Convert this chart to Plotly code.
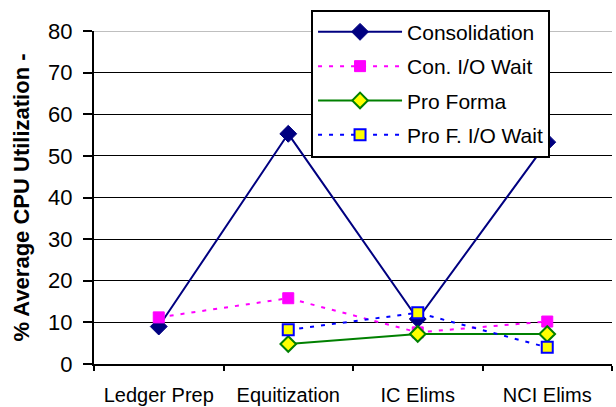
import plotly.graph_objects as go

# Workload phases and utilization figures
categories = ["Ledger Prep", "Equitization", "IC Elims", "NCI Elims"]
consolidation = [9.0, 55.3, 10.8, 53.3]
con_io_wait = [11.2, 15.8, 7.6, 10.2]
pro_forma = [None, 4.8, 7.2, 7.2]
pro_f_io_wait = [None, 8.2, 12.3, 4.0]
y_ticks = [0, 10, 20, 30, 40, 50, 60, 70, 80]

FONT = "Liberation Sans, Arial, sans-serif"

fig = go.Figure()

fig.add_trace(go.Scatter(
    x=categories, y=consolidation, name="Consolidation", mode="lines+markers",
    line=dict(color="#000080", width=2),
    marker=dict(symbol="diamond", size=13, color="#000080",
                line=dict(color="#000080", width=1)),
    legendgroup="a",
))
fig.add_trace(go.Scatter(
    x=categories, y=con_io_wait, name="Con. I/O Wait", mode="lines+markers",
    line=dict(color="#FF00FF", width=2, dash="4px,7px"),
    marker=dict(symbol="square", size=11, color="#FF00FF",
                line=dict(color="#FF00FF", width=1)),
    legendgroup="b",
))
fig.add_trace(go.Scatter(
    x=categories, y=pro_forma, name="Pro Forma", mode="lines+markers",
    line=dict(color="#008000", width=2),
    marker=dict(symbol="diamond", size=12, color="#FFFF00",
                line=dict(color="#008000", width=2)),
    legendgroup="c",
))
fig.add_trace(go.Scatter(
    x=categories, y=pro_f_io_wait, name="Pro F. I/O Wait", mode="lines+markers",
    line=dict(color="#0000FF", width=2, dash="4px,7px"),
    marker=dict(symbol="square", size=11, color="#FFFF00",
                line=dict(color="#0000FF", width=2)),
    legendgroup="d",
))

# top border line of the plot area in grey
fig.add_shape(type="line", xref="paper", yref="y", x0=0, x1=1, y0=80, y1=80,
              line=dict(color="#808080", width=1), layer="below")

fig.update_layout(
    width=616, height=407,
    margin=dict(l=94, r=4, t=31, b=43),
    paper_bgcolor="white", plot_bgcolor="white",
    font=dict(family=FONT, color="black"),
    showlegend=True,
    legend=dict(
        x=0.419, y=1.064, xanchor="left", yanchor="top",
        bgcolor="white", bordercolor="black", borderwidth=2,
        font=dict(family=FONT, size=21, color="black"),
        itemwidth=84, tracegroupgap=4,
    ),
    xaxis=dict(
        type="category", range=[-0.5, 3.5], automargin=False,
        showline=True, linecolor="black", linewidth=2,
        ticks="outside", tickson="boundaries", ticklen=5, tickwidth=2, tickcolor="black",
        showgrid=False, ticklabelstandoff=12,
        tickfont=dict(family=FONT, size=20, color="black"),
    ),
    yaxis=dict(
        range=[0, 80], tickvals=y_ticks, automargin=False,
        showline=True, linecolor="black", linewidth=2,
        ticks="outside", ticklen=9, tickwidth=2, tickcolor="black",
        showgrid=True, gridcolor="black", gridwidth=1, zeroline=False,
        ticklabelstandoff=6,
        tickfont=dict(family=FONT, size=22, color="black"),
        title=dict(text="<b>% Average CPU Utilization -</b>",
                   font=dict(family=FONT, size=22, color="black"), standoff=12),
    ),
)

fig.write_html("out.html")
